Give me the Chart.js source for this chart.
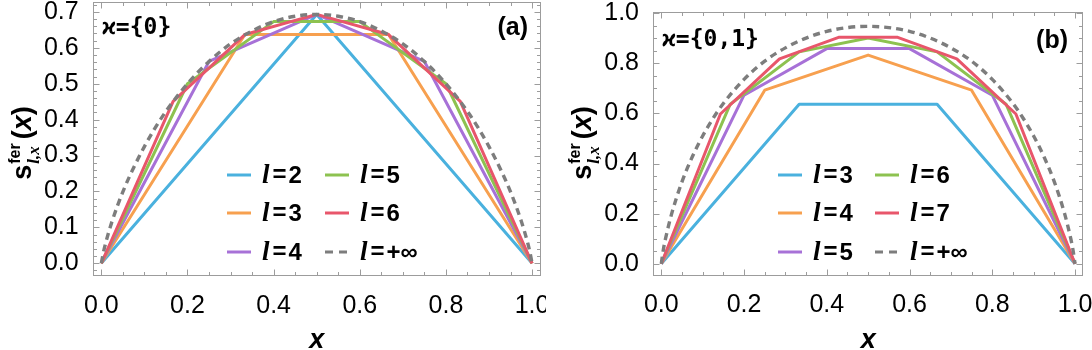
<!DOCTYPE html>
<html><head><meta charset="utf-8">
<script src="https://cdn.jsdelivr.net/npm/chart.js@4/dist/chart.umd.min.js"></script>
<style>
html,body{margin:0;padding:0;background:#fff;}
#wrap{position:relative;width:1092px;height:350px;background:#fff;}
.p{position:absolute;top:0;width:546px;height:350px;}
</style></head><body>
<div id="wrap">
<div class="p" style="left:0"><canvas id="ca" width="546" height="350"></canvas></div>
<div class="p" style="left:546px"><canvas id="cb" width="546" height="350"></canvas></div>
</div>
<script>
// ---------------- data ----------------
const xTicks  = [0, 0.2, 0.4, 0.6, 0.8, 1.0];
const yTicksA = [0, 0.1, 0.2, 0.3, 0.4, 0.5, 0.6, 0.7];
const yTicksB = [0, 0.2, 0.4, 0.6, 0.8, 1.0];

const xL2 = [0, 0.5, 1];
const xL3 = [0, 0.3333, 0.6667, 1];
const xL4 = [0, 0.25, 0.5, 0.75, 1];
const xL5 = [0, 0.2, 0.4, 0.6, 0.8, 1];
const xL6 = [0, 0.1667, 0.3333, 0.5, 0.6667, 0.8333, 1];
const xL7 = [0, 0.1429, 0.2857, 0.4286, 0.5714, 0.7143, 0.8571, 1];
const xInf = [0, 0.005, 0.01, 0.025, 0.05, 0.075, 0.1, 0.125, 0.15, 0.2, 0.25, 0.3, 0.35, 0.4, 0.45, 0.5,
              0.55, 0.6, 0.65, 0.7, 0.75, 0.8, 0.85, 0.875, 0.9, 0.925, 0.95, 0.975, 0.99, 0.995, 1];

// panel (a): kappa = {0}
const yA2 = [0, 0.693, 0];
const yA3 = [0, 0.637, 0.637, 0];
const yA4 = [0, 0.562, 0.693, 0.562, 0];
const yA5 = [0, 0.500, 0.673, 0.673, 0.500, 0];
const yA6 = [0, 0.451, 0.637, 0.693, 0.637, 0.451, 0];
const yAInf = [0, 0.031, 0.056, 0.117, 0.199, 0.266, 0.325, 0.377, 0.423, 0.500, 0.562, 0.611, 0.647, 0.673, 0.688, 0.693,
               0.688, 0.673, 0.647, 0.611, 0.562, 0.500, 0.423, 0.377, 0.325, 0.266, 0.199, 0.117, 0.056, 0.031, 0];

// panel (b): kappa = {0,1}
const yB3 = [0, 0.637, 0.637, 0];
const yB4 = [0, 0.693, 0.833, 0.693, 0];
const yB5 = [0, 0.673, 0.859, 0.859, 0.673, 0];
const yB6 = [0, 0.637, 0.846, 0.901, 0.846, 0.637, 0];
const yB7 = [0, 0.598, 0.818, 0.904, 0.904, 0.818, 0.598, 0];
const yBInf = [0, 0.056, 0.098, 0.199, 0.327, 0.427, 0.510, 0.580, 0.640, 0.736, 0.809, 0.862, 0.901, 0.928, 0.943, 0.948,
               0.943, 0.928, 0.901, 0.862, 0.809, 0.736, 0.640, 0.580, 0.510, 0.427, 0.327, 0.199, 0.098, 0.056, 0];

const labelsA = ['2', '3', '4', '5', '6', '+∞'];
const labelsB = ['3', '4', '5', '6', '7', '+∞'];

// ---------------- styles ----------------
const COLORS = ['#4AB1DE', '#F7A04F', '#A771D7', '#8DC250', '#E8566B', '#7D7D7D'];
const SANS = '"Liberation Sans", Arial, sans-serif';

function pts(xs, ys) { return xs.map((v, i) => ({x: v, y: ys[i]})); }

function makeSets(xsList, ysList) {
  return xsList.map((xs, i) => {
    const dashed = i === 5;
    return {
      data: pts(xs, ysList[i]),
      borderColor: COLORS[i],
      borderWidth: dashed ? 3.4 : 3,
      borderDash: dashed ? [7, 5] : [],
      tension: 0,
      cubicInterpolationMode: dashed ? 'monotone' : 'default',
      pointRadius: 0,
      fill: false,
      borderJoinStyle: 'round',
      order: 5 - i
    };
  });
}

function drawYTitle(ctx, cx, cy) {
  ctx.save();
  ctx.translate(cx, cy); ctx.rotate(-Math.PI / 2);
  ctx.fillStyle = '#000'; ctx.textBaseline = 'alphabetic'; ctx.textAlign = 'left';
  const fMain = 'bold 27px ' + SANS;
  const fMainI = 'italic bold 27px ' + SANS;
  const fSup = 'bold 16px ' + SANS;
  const fSub = 'italic bold 17px "Liberation Serif", serif';
  ctx.font = fMain;
  const wS = ctx.measureText('s').width, wO = ctx.measureText('(').width, wC = ctx.measureText(')').width;
  ctx.font = fMainI; const wX = ctx.measureText('x').width;
  ctx.font = fSup; const wSup = ctx.measureText('fer').width;
  ctx.font = fSub; const wSub = ctx.measureText('l,x').width;
  const wMid = Math.max(wSup, wSub) + 4;
  const total = wS + 1 + wMid + wO + wX + wC;
  let xx = -total / 2;
  ctx.font = fMain; ctx.fillText('s', xx, 0); xx += wS + 1;
  ctx.font = fSup; ctx.fillText('fer', xx, -11);
  ctx.font = fSub; ctx.fillText('l,x', xx, 8);
  xx += wMid;
  ctx.font = fMain; ctx.fillText('(', xx, 0); xx += wO;
  ctx.font = fMainI; ctx.fillText('x', xx, 0); xx += wX;
  ctx.font = fMain; ctx.fillText(')', xx, 0);
  ctx.restore();
}

const decorPlugin = {
  id: 'decor',
  beforeDatasetsDraw(chart, args, o) {
    const {ctx, chartArea: a, scales: {x, y}} = chart;
    ctx.save();
    ctx.strokeStyle = '#9c9c9c'; ctx.lineWidth = 1;
    const L = Math.round(a.left) + 0.5, R = Math.round(a.right) - 0.5;
    const T = Math.round(a.top) + 0.5, B = Math.round(a.bottom) - 0.5;
    ctx.strokeRect(L, T, R - L, B - T);
    ctx.beginPath();
    for (let k = Math.ceil(x.min / 0.05); k <= Math.floor(x.max / 0.05); k++) {
      const major = k % 4 === 0, len = major ? 6 : 3.5;
      const px = Math.round(x.getPixelForValue(k * 0.05)) + 0.5;
      ctx.moveTo(px, B); ctx.lineTo(px, B - len);
      ctx.moveTo(px, T); ctx.lineTo(px, T + len);
    }
    const step = o.yMinor, ratio = Math.round(o.yMajor / o.yMinor);
    for (let k = Math.ceil(y.min / step - 1e-9); k <= Math.floor(y.max / step + 1e-9); k++) {
      const major = k % ratio === 0, len = major ? 6 : 3.5;
      const py = Math.round(y.getPixelForValue(k * step)) + 0.5;
      ctx.moveTo(L, py); ctx.lineTo(L + len, py);
      ctx.moveTo(R, py); ctx.lineTo(R - len, py);
    }
    ctx.stroke();
    ctx.restore();
  },
  afterDraw(chart, args, o) {
    const ctx = chart.ctx;
    ctx.save();
    // kappa label
    ctx.fillStyle = '#000';
    ctx.textBaseline = 'middle'; ctx.textAlign = 'left';
    ctx.font = 'bold 23px "DejaVu Sans Mono", monospace';
    ctx.fillText(o.kappa, o.kappaX, o.kappaY);
    // panel tag
    ctx.textAlign = 'right';
    ctx.font = 'bold 25px ' + SANS;
    ctx.fillText(o.tag, o.tagX, o.tagY);
    // legend
    const ds = chart.data.datasets;
    o.legendLabels.forEach((lab, i) => {
      const col = Math.floor(i / 3), row = i % 3;
      const sx = o.legCols[col], sy = o.legRows[row];
      ctx.save();
      ctx.strokeStyle = ds[i].borderColor; ctx.lineWidth = 3;
      ctx.setLineDash(i === 5 ? [8, 6] : []);
      ctx.beginPath(); ctx.moveTo(sx, sy); ctx.lineTo(sx + 24, sy); ctx.stroke();
      ctx.restore();
      let tx = sx + 35;
      ctx.textAlign = 'left'; ctx.textBaseline = 'middle';
      ctx.font = 'italic bold 27px "Liberation Serif", serif';
      ctx.fillText('l', tx, sy + 1); tx += ctx.measureText('l').width + 3;
      ctx.font = 'bold 24px ' + SANS;
      ctx.fillText('=', tx, sy); tx += ctx.measureText('=').width + 2;
      ctx.fillText(lab, tx, sy + 1);
    });
    drawYTitle(ctx, o.ytX, o.ytY);
    ctx.restore();
  }
};

function makeChart(id, cfg) {
  return new Chart(document.getElementById(id), {
    type: 'line',
    data: {datasets: cfg.sets},
    options: {
      responsive: false, animation: false, devicePixelRatio: 1,
      layout: {padding: cfg.padding},
      plugins: {legend: {display: false}, tooltip: {enabled: false}, decor: cfg.decor},
      scales: {
        x: {
          type: 'linear', min: -0.02, max: 1.02,
          grid: {display: false}, border: {display: false},
          afterBuildTicks: s => { s.ticks = xTicks.map(v => ({value: v})); },
          afterFit: s => { s.height = cfg.xh; s.paddingLeft = 0; s.paddingRight = 0; },
          ticks: {font: {family: SANS, size: 25}, color: '#000', padding: 7, maxRotation: 0, autoSkip: false,
                  callback: v => Number(v).toFixed(1)},
          title: {display: true, text: 'x', color: '#000', padding: 0,
                  font: {family: SANS, size: 27, style: 'italic', weight: 'bold', lineHeight: 0.7}}
        },
        y: {
          type: 'linear', min: cfg.ymin, max: cfg.ymax,
          grid: {display: false}, border: {display: false},
          afterBuildTicks: s => { s.ticks = cfg.yTicks.map(v => ({value: v})); },
          afterFit: s => { s.width = cfg.yw; s.paddingTop = 0; s.paddingBottom = 0; },
          ticks: {font: {family: SANS, size: 25}, color: '#000', padding: 6, autoSkip: false,
                  callback: v => Number(v).toFixed(1)}
        }
      }
    },
    plugins: [decorPlugin]
  });
}

makeChart('ca', {
  sets: makeSets([xL2, xL3, xL4, xL5, xL6, xInf], [yA2, yA3, yA4, yA5, yA6, yAInf]),
  padding: {left: 0, right: 5.3, top: 1.5, bottom: 0},
  xh: 74, yw: 92.7, ymin: -0.0354, ymax: 0.729, yTicks: yTicksA,
  decor: {yMinor: 0.02, yMajor: 0.1, kappa: 'ϰ={0}', kappaX: 102, kappaY: 28,
          tag: '(a)', tagX: 528, tagY: 28,
          legendLabels: labelsA, legCols: [227, 325], legRows: [175, 213, 252],
          ytX: 31, ytY: 143}
});

makeChart('cb', {
  sets: makeSets([xL3, xL4, xL5, xL6, xL7, xInf], [yB3, yB4, yB5, yB6, yB7, yBInf]),
  padding: {left: 0, right: 8.7, top: 11.7, bottom: 0},
  xh: 74.5, yw: 107, ymin: -0.047, ymax: 1.0064, yTicks: yTicksB,
  decor: {yMinor: 0.05, yMajor: 0.2, kappa: 'ϰ={0,1}', kappaX: 116, kappaY: 40,
          tag: '(b)', tagX: 522, tagY: 41,
          legendLabels: labelsB, legCols: [232, 329], legRows: [175, 213, 252],
          ytX: 45, ytY: 143}
});
</script>
</body></html>
